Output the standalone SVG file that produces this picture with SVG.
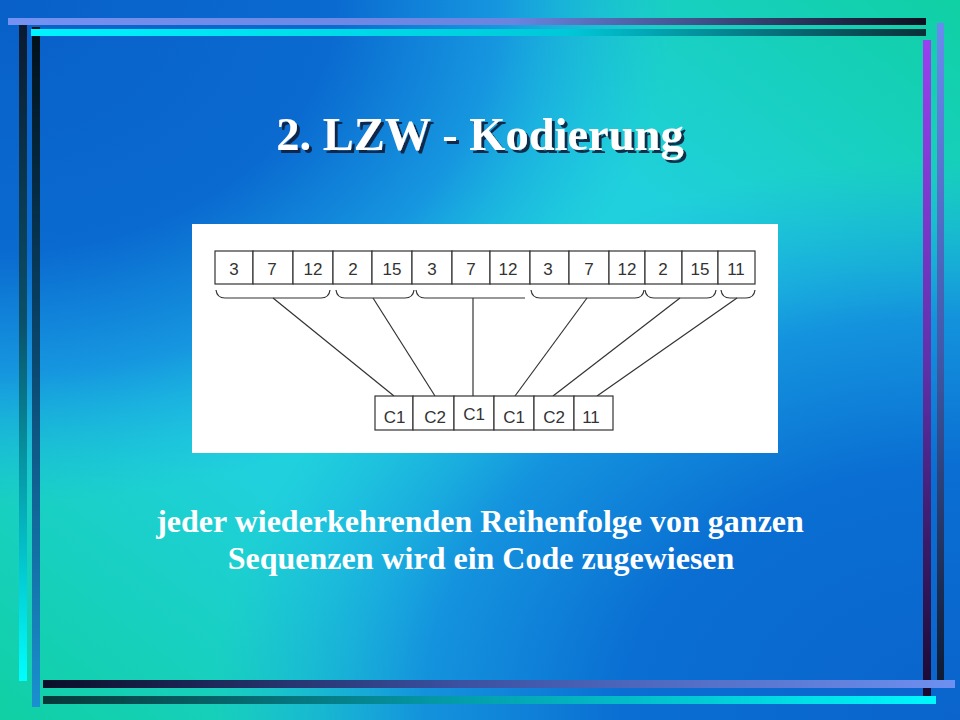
<svg xmlns="http://www.w3.org/2000/svg" width="960" height="720" viewBox="0 0 960 720">
<defs>
<linearGradient id="bgBase" x1="1" y1="0" x2="0" y2="1">
<stop offset="0" stop-color="#10d0a4"/>
<stop offset="0.3" stop-color="#20d0dc"/>
<stop offset="0.7" stop-color="#20d0dc"/>
<stop offset="1" stop-color="#10d0a4"/>
</linearGradient>
<radialGradient id="bgTL" cx="0" cy="0" r="1" fx="0" fy="0">
<stop offset="0" stop-color="#0860c8" stop-opacity="1"/>
<stop offset="0.35" stop-color="#0a6ad0" stop-opacity="1"/>
<stop offset="0.52" stop-color="#1590e0" stop-opacity="0.9"/>
<stop offset="0.7" stop-color="#1ab4e4" stop-opacity="0"/>
</radialGradient>
<radialGradient id="bgBR" cx="1" cy="1" r="1" fx="1" fy="1">
<stop offset="0" stop-color="#0a64cc" stop-opacity="1"/>
<stop offset="0.35" stop-color="#0a6ed2" stop-opacity="1"/>
<stop offset="0.56" stop-color="#1288de" stop-opacity="0.85"/>
<stop offset="0.78" stop-color="#1aa8e4" stop-opacity="0"/>
</radialGradient>
<linearGradient id="gTop1" x1="0" y1="0" x2="1" y2="0">
<stop offset="0" stop-color="#7492f2"/>
<stop offset="0.55" stop-color="#6a84e0"/>
<stop offset="1" stop-color="#0c1020"/>
</linearGradient>
<linearGradient id="gTop2" x1="0" y1="0" x2="1" y2="0">
<stop offset="0" stop-color="#00f4ff"/>
<stop offset="0.6" stop-color="#00c8d8"/>
<stop offset="1" stop-color="#0a3038"/>
</linearGradient>
<linearGradient id="gLeft1" x1="0" y1="0" x2="0" y2="1">
<stop offset="0" stop-color="#0a1a30"/>
<stop offset="0.45" stop-color="#0a5068"/>
<stop offset="1" stop-color="#00ffff"/>
</linearGradient>
<linearGradient id="gLeft2" x1="0" y1="0" x2="0" y2="1">
<stop offset="0" stop-color="#001018"/>
<stop offset="0.5" stop-color="#0a4870"/>
<stop offset="1" stop-color="#1a90d0"/>
</linearGradient>
<linearGradient id="gBot1" x1="0" y1="0" x2="1" y2="0">
<stop offset="0" stop-color="#0a0e28"/>
<stop offset="0.45" stop-color="#3a50a0"/>
<stop offset="1" stop-color="#6e90f0"/>
</linearGradient>
<linearGradient id="gBot2" x1="0" y1="0" x2="1" y2="0">
<stop offset="0" stop-color="#063838"/>
<stop offset="0.45" stop-color="#049aa8"/>
<stop offset="1" stop-color="#00f8ff"/>
</linearGradient>
<linearGradient id="gRight1" x1="0" y1="0" x2="0" y2="1">
<stop offset="0" stop-color="#9a40f0"/>
<stop offset="0.5" stop-color="#6030a8"/>
<stop offset="1" stop-color="#1a0830"/>
</linearGradient>
<linearGradient id="gRight2" x1="0" y1="0" x2="0" y2="1">
<stop offset="0" stop-color="#6a8af0"/>
<stop offset="0.5" stop-color="#4058a8"/>
<stop offset="1" stop-color="#0c1a30"/>
</linearGradient>
<filter id="shadow" x="-5%" y="-20%" width="110%" height="150%">
<feDropShadow dx="3" dy="3" stdDeviation="0.6" flood-color="#0a1a3a" flood-opacity="0.9"/>
</filter>
<style>
.cell{fill:#ffffff;stroke:#333333;stroke-width:1.2}
.lbl{font-family:"Liberation Sans",Arial,sans-serif;font-size:17px;fill:#333333;text-anchor:middle}
.conn{fill:none;stroke:#333333;stroke-width:1.2}
.title{font-family:"Liberation Serif","Times New Roman",serif;font-weight:bold;font-size:46.5px;text-anchor:middle;fill:#ffffff}
.body{font-family:"Liberation Serif","Times New Roman",serif;font-weight:bold;font-size:32px;fill:#ffffff;text-anchor:middle}
</style>
</defs>

<g id="background">
<rect x="0" y="0" width="960" height="720" fill="url(#bgBase)"/>
<rect x="0" y="0" width="960" height="720" fill="url(#bgTL)"/>
<rect x="0" y="0" width="960" height="720" fill="url(#bgBR)"/>
</g>

<g id="frame">
<rect x="19" y="25" width="8" height="656" fill="url(#gLeft1)"/>
<rect x="32" y="27" width="8" height="680" fill="url(#gLeft2)"/>
<rect x="923" y="40" width="8" height="656" fill="url(#gRight1)"/>
<rect x="937" y="23" width="7" height="665" fill="url(#gRight2)"/>
<rect x="8" y="18" width="918" height="7" fill="url(#gTop1)"/>
<rect x="31" y="29" width="895" height="7" fill="url(#gTop2)"/>
<rect x="43" y="680" width="912" height="8" fill="url(#gBot1)"/>
<rect x="43" y="696" width="893" height="8" fill="url(#gBot2)"/>
</g>

<g id="title">
<text class="title" x="480" y="150" filter="url(#shadow)">2. LZW - Kodierung</text>
</g>

<g id="panel">
<rect x="192" y="224" width="586" height="229" fill="#ffffff"/>
</g>

<g id="connectors">
<path class="conn" d="M216 290 Q217 298 225 298 L321 298 Q329 298 330 290"/>
<path class="conn" d="M336 290 Q337 298 345 298 L405 298 Q413 298 414 290"/>
<path class="conn" d="M416 290 Q417 298 425 298 L525 298"/>
<path class="conn" d="M531 290 Q532 298 540 298 L635 298 Q643 298 644 290"/>
<path class="conn" d="M645 290 Q646 298 654 298 L707 298 Q715 298 716 290"/>
<path class="conn" d="M721 290 Q722 298 730 298 L746 298 Q754 298 755 290"/>
<line class="conn" x1="273" y1="298" x2="394" y2="396"/>
<line class="conn" x1="373" y1="298" x2="435" y2="396"/>
<line class="conn" x1="473" y1="298" x2="473" y2="396"/>
<line class="conn" x1="587" y1="298" x2="515" y2="396"/>
<line class="conn" x1="680" y1="298" x2="553" y2="396"/>
<line class="conn" x1="737" y1="298" x2="597" y2="396"/>
</g>

<g id="t1"><rect class="cell" x="215" y="251" width="38" height="33"/><text class="lbl" x="234" y="275">3</text></g>
<g id="t2"><rect class="cell" x="253" y="251" width="40" height="33"/><text class="lbl" x="272" y="275">7</text></g>
<g id="t3"><rect class="cell" x="293" y="251" width="40" height="33"/><text class="lbl" x="313" y="275">12</text></g>
<g id="t4"><rect class="cell" x="333" y="251" width="39" height="33"/><text class="lbl" x="353" y="275">2</text></g>
<g id="t5"><rect class="cell" x="372" y="251" width="40" height="33"/><text class="lbl" x="392" y="275">15</text></g>
<g id="t6"><rect class="cell" x="412" y="251" width="40" height="33"/><text class="lbl" x="432" y="275">3</text></g>
<g id="t7"><rect class="cell" x="452" y="251" width="38" height="33"/><text class="lbl" x="471" y="275">7</text></g>
<g id="t8"><rect class="cell" x="490" y="251" width="40" height="33"/><text class="lbl" x="508" y="275">12</text></g>
<g id="t9"><rect class="cell" x="530" y="251" width="39" height="33"/><text class="lbl" x="548" y="275">3</text></g>
<g id="t10"><rect class="cell" x="569" y="251" width="40" height="33"/><text class="lbl" x="589" y="275">7</text></g>
<g id="t11"><rect class="cell" x="609" y="251" width="36" height="33"/><text class="lbl" x="627" y="275">12</text></g>
<g id="t12"><rect class="cell" x="645" y="251" width="37" height="33"/><text class="lbl" x="663" y="275">2</text></g>
<g id="t13"><rect class="cell" x="682" y="251" width="36" height="33"/><text class="lbl" x="700" y="275">15</text></g>
<g id="t14"><rect class="cell" x="718" y="251" width="37" height="33"/><text class="lbl" x="736" y="275">11</text></g>

<g id="b1"><rect class="cell" x="375" y="396" width="38" height="34"/><text class="lbl" x="394.5" y="423">C1</text></g>
<g id="b2"><rect class="cell" x="413" y="396" width="41" height="34"/><text class="lbl" x="435" y="423">C2</text></g>
<g id="b3"><rect class="cell" x="454" y="396" width="40" height="34"/><text class="lbl" x="474" y="420">C1</text></g>
<g id="b4"><rect class="cell" x="494" y="396" width="40" height="34"/><text class="lbl" x="514" y="423">C1</text></g>
<g id="b5"><rect class="cell" x="534" y="396" width="40" height="34"/><text class="lbl" x="554" y="423">C2</text></g>
<g id="b6"><rect class="cell" x="574" y="396" width="39" height="34"/><text class="lbl" x="591" y="423">11</text></g>

<g id="caption">
<text class="body" x="480" y="532">jeder wiederkehrenden Reihenfolge von ganzen</text>
<text class="body" x="481" y="569">Sequenzen wird ein Code zugewiesen</text>
</g>
</svg>
